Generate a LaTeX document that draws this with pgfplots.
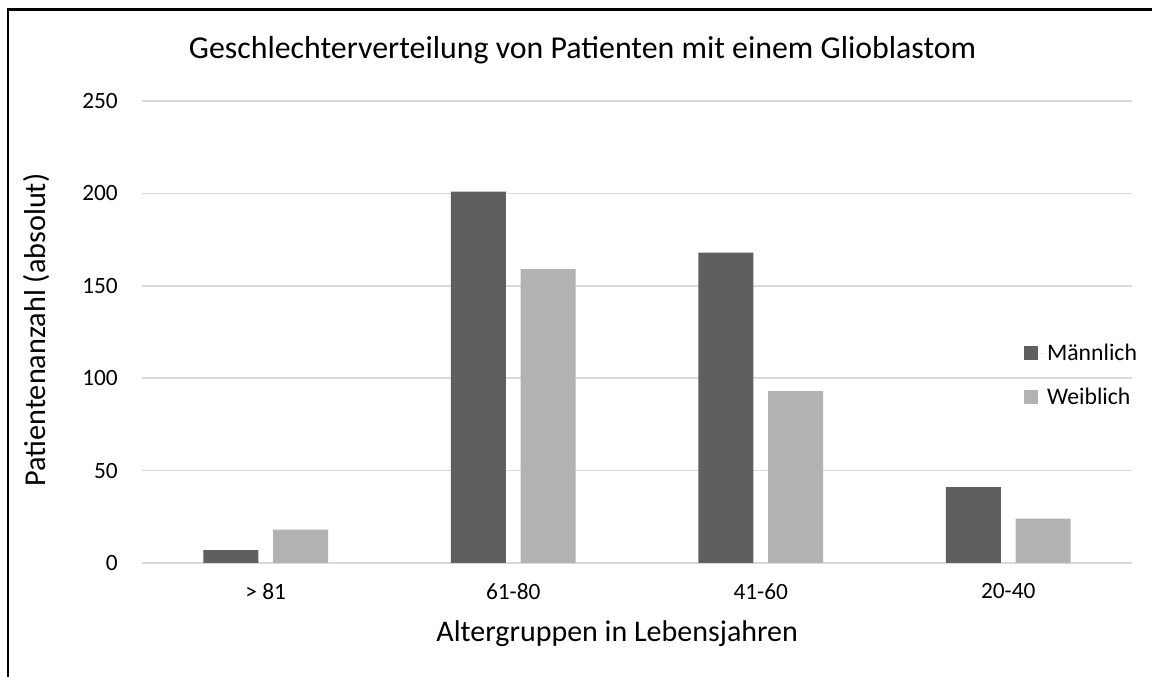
\documentclass[border=0pt]{standalone}
\usepackage{pgfplots}
\pgfplotsset{compat=1.18}
\usepackage{fontspec}
\setmainfont{Carlito}
\definecolor{male}{RGB}{95,95,95}
\definecolor{female}{RGB}{178,178,178}
\definecolor{gridgray}{RGB}{217,217,217}
\begin{document}
\begin{tikzpicture}[x=0.75pt,y=0.75pt]
\path[use as bounding box] (0,0) rectangle (1152,677);
\draw[line width=2pt] (8,0) -- (8,667.5) -- (1152,667.5);
\begin{axis}[
  at={(106.5pt,85.5pt)}, anchor=south west,
  scale only axis, width=742.5pt, height=346.5pt,
  xmin=-0.5, xmax=3.5, ymin=0, ymax=250,
  ytick={0,50,...,250},
  xtick={0,1,2,3},
  xticklabels={{> 81},{61-80},{41-60},{20-40}},
  ymajorgrids, xmajorgrids=false, major grid style={draw=gridgray, line width=1.3pt},
  axis line style={draw=none},
  axis x line*=bottom,
  x axis line style={draw=gridgray, line width=1.3pt},
  major tick length=0pt,
  tick label style={font=\fontsize{17.5}{20}\selectfont},
  /pgf/number format/assume math mode=true,
  yticklabel style={anchor=east, inner sep=0pt, xshift=-18pt},
  xticklabel style={anchor=north, inner sep=0pt, yshift=-15pt},
  title={Geschlechterverteilung von Patienten mit einem Glioblastom},
  title style={font=\fontsize{23.9}{28}\selectfont, at={(rel axis cs:0.445,1.093)}, anchor=center, inner sep=0pt},
  xlabel={Altergruppen in Lebensjahren},
  xlabel style={font=\fontsize{22.5}{26}\selectfont, at={(rel axis cs:0.48,-0.154)}, anchor=center, inner sep=0pt},
  ylabel={Patientenanzahl (absolut)},
  ylabel style={font=\fontsize{22.7}{26}\selectfont, at={(rel axis cs:-0.107,0.504)}, anchor=center, inner sep=0pt},
  ybar, bar width=0.222,
  legend style={draw=none, fill=none, at={(rel axis cs:0.891,0.407)}, anchor=west,
    font=\fontsize{17.8}{20}\selectfont, row sep=15pt, inner sep=0pt},
  legend cell align=left,
  legend image code/.code={\fill[#1] (0pt,-5pt) rectangle (10pt,5pt); \path (0pt,0pt) -- (15pt,0pt);},
]
\addplot[fill=male, draw=none, bar shift=-0.141] coordinates {(0,7) (1,201) (2,168) (3,41)};
\addplot[fill=female, draw=none, bar shift=0.141] coordinates {(0,18) (1,159) (2,93) (3,24)};
\legend{Männlich, Weiblich}
\end{axis}
\end{tikzpicture}
\end{document}
